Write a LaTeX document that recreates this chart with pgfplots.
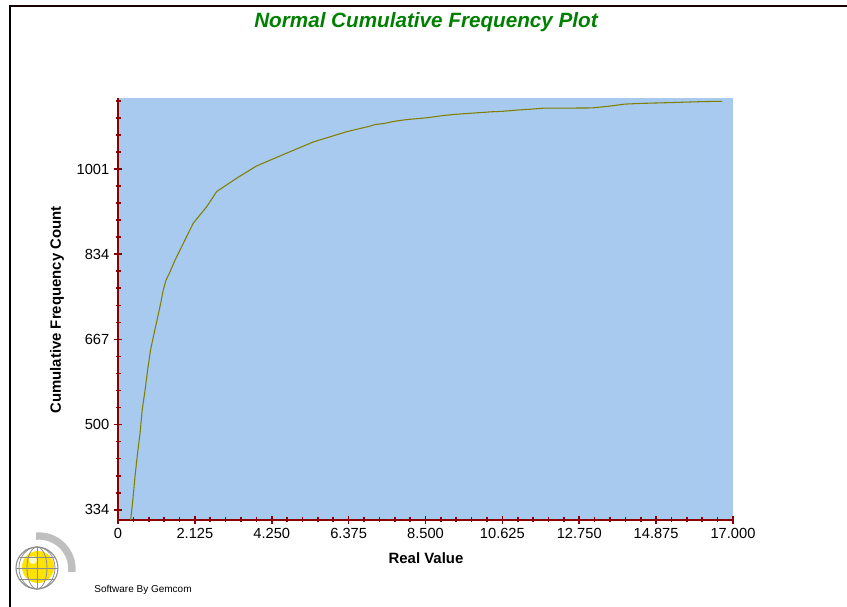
\documentclass[border=0pt]{standalone}
\usepackage{pgfplots}
\pgfplotsset{compat=1.18}
\usepackage{fontspec}
\setmainfont{Liberation Sans}
\definecolor{bgblue}{RGB}{168,202,239}
\definecolor{axred}{RGB}{139,0,0}
\definecolor{curve}{RGB}{128,128,0}
\definecolor{titlegreen}{RGB}{0,128,0}
\begin{document}
\begin{tikzpicture}
\useasboundingbox (0,0) rectangle (635.25pt,455.25pt);
\begin{scope}[x=0.75pt,y=0.75pt]
% frame
\draw[line width=2pt,color=black!90!red] (9,601) -- (847,601);
\draw[line width=2pt,black] (10,602) -- (10,0);
% title and labels
\node[font=\fontsize{15.5}{18}\selectfont\bfseries\itshape,text=titlegreen] at (426,585) {Normal Cumulative Frequency Plot};
\node[font=\fontsize{11.2}{13}\selectfont\bfseries,rotate=90] at (57,297) {Cumulative Frequency Count};
\node[font=\fontsize{11.2}{13}\selectfont\bfseries] at (426,49) {Real Value};
\node[font=\fontsize{7.5}{9}\selectfont] at (143,17) {Software By Gemcom};
% logo
\draw[line width=5.5pt,color=black!25] (39,38) ++(95:33) arc[start angle=95,end angle=-5,radius=33];
\fill[color=yellow!85!orange] (38,40) circle (16);
\fill[white,opacity=0.8] (33,47) circle (4);
\draw[color=black!45,line width=0.8pt] (37,39) circle (21);
\draw[color=black!45,line width=0.6pt] (37,39) ellipse (10 and 21);
\draw[color=black!45,line width=0.6pt] (37,18) -- (37,60);
\draw[color=black!45,line width=0.6pt] (16,39) -- (58,39);
\draw[color=black!45,line width=0.6pt] (19,50) -- (55,50);
\draw[color=black!45,line width=0.6pt] (19,28) -- (55,28);
\draw[color=black!45,line width=0.6pt] (37,39) ellipse (18 and 21);
\end{scope}
\begin{axis}[
  at={(88.5pt,65.25pt)}, anchor=south west,
  scale only axis, width=461.25pt, height=316.5pt,
  xmin=0, xmax=17, ymin=314, ymax=1140,
  axis x line*=bottom, axis y line*=left,
  axis line style={color=axred, line width=1.5pt},
  axis background/.style={fill=bgblue},
  xtick={0,2.125,4.25,6.375,8.5,10.625,12.75,14.875,17},
  xticklabels={0,2.125,4.250,6.375,8.500,10.625,12.750,14.875,17.000},
  minor x tick num=4,
  ytick={334,500.75,667.5,834.25,1001},
  yticklabels={334,500,667,834,1001},
  minor ytick={367.35,400.7,434.05,467.4,534.1,567.45,600.8,634.15,700.85,734.2,767.55,800.9,867.6,900.95,934.3,967.65,1034.35,1067.7,1101.05,1134.4},
  tick align=center,
  major tick length=6pt, minor tick length=3.75pt,
  every tick/.style={color=axred, line width=1.2pt},
  tick label style={font=\fontsize{11}{13}\selectfont},
  clip=true,
]
\addplot[color=curve, line width=0.8pt] coordinates {
(0.35,314) (0.41,353) (0.47,399) (0.53,438) (0.61,484) (0.67,530)
(0.75,569) (0.82,608) (0.90,647) (1.00,680) (1.10,712) (1.18,738)
(1.25,764) (1.33,784) (1.42,797) (1.58,823) (1.67,836) (2.08,895)
(2.45,927) (2.73,957) (3.28,983) (3.83,1007) (4.66,1032) (5.40,1054)
(6.32,1074) (6.97,1085) (7.10,1088) (7.35,1090) (7.61,1094) (7.79,1096)
(8.02,1098) (8.35,1100) (8.62,1102) (8.81,1104) (9.04,1106) (9.31,1108)
(9.73,1110) (10.33,1113) (10.64,1114) (11.06,1116.5) (11.40,1118)
(11.75,1120) (13.10,1120.5) (13.30,1122) (13.58,1124) (13.80,1126)
(14.00,1128) (14.50,1129.5) (15.30,1131) (16.20,1133) (16.70,1133.5)
};
\end{axis}
\end{tikzpicture}
\end{document}
